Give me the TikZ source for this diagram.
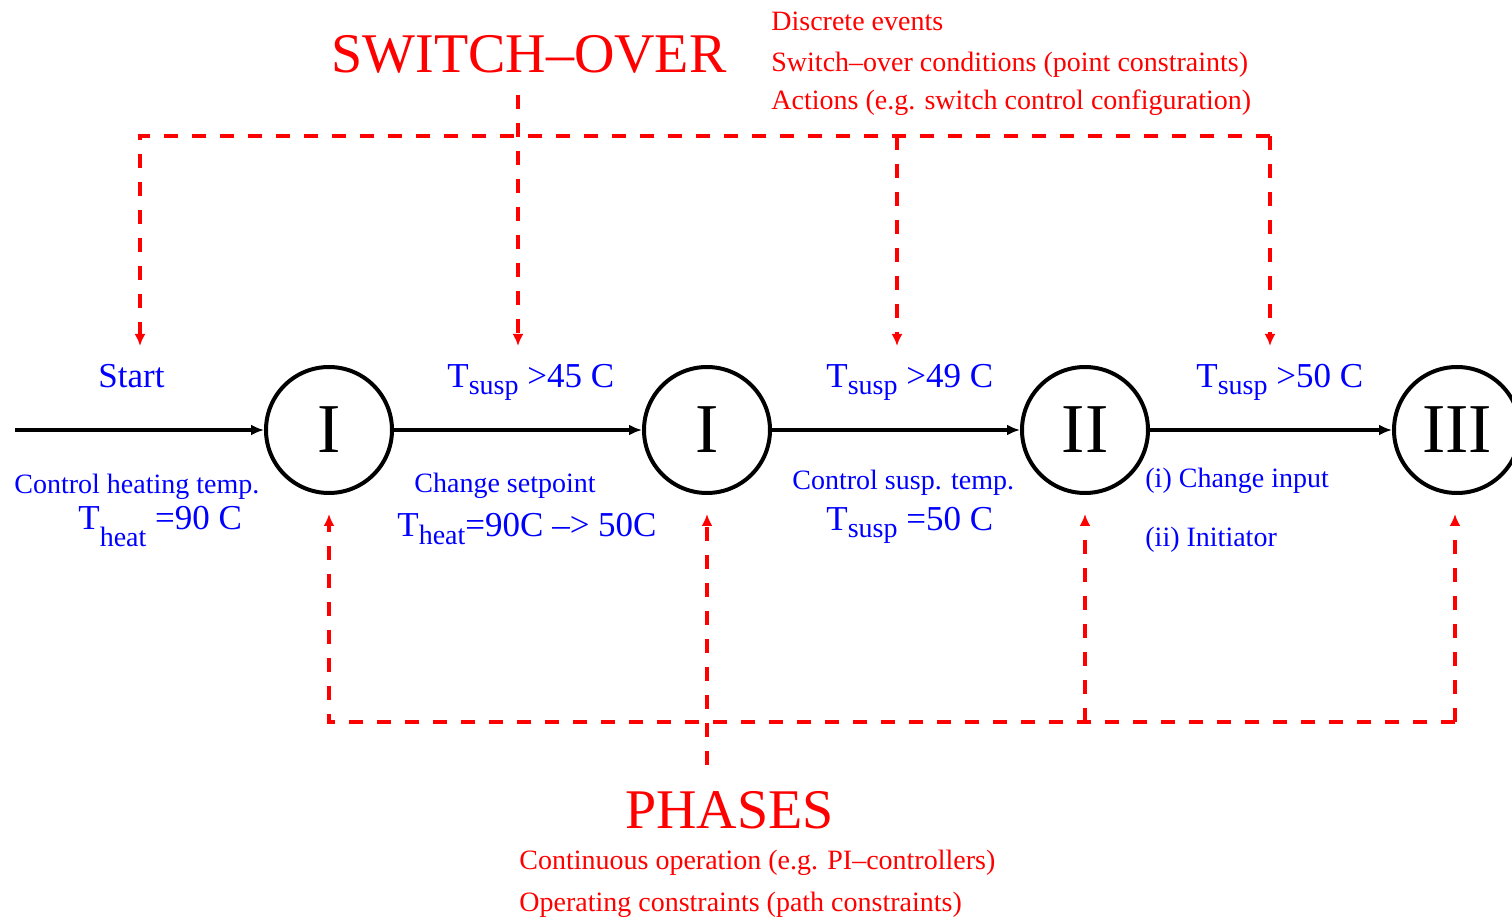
\documentclass[tikz,border=0pt]{standalone}
\usepackage{fontspec}
\setmainfont{Liberation Serif}
\usetikzlibrary{arrows.meta}
\definecolor{evred}{RGB}{255,0,0}
\definecolor{lblue}{RGB}{0,0,255}
\newcommand\Tlbl[2]{T\raisebox{-#2}{\fontsize{14}{14}\selectfont #1}}
\begin{document}
\begin{tikzpicture}[x=0.5pt,y=-0.5pt,
  phase/.style={circle,draw,line width=2pt,minimum size=63pt,inner sep=0pt,font=\fontsize{35}{35}\selectfont},
  flow/.style={line width=2pt,-{Latex[length=6.5pt,width=5.5pt]}},
  evt/.style={evred,line width=2pt,dash pattern=on 7pt off 7pt},
  evtarr/.style={evt,-{Latex[length=6pt,width=5.5pt]}},
  lbl/.style={anchor=base west,inner sep=0pt,text=lblue,font=\fontsize{17.5}{17.5}\selectfont},
  sml/.style={anchor=base west,inner sep=0pt,text=lblue,font=\fontsize{14}{14}\selectfont},
  rsml/.style={anchor=base west,inner sep=0pt,text=evred,font=\fontsize{14}{14}\selectfont},
  big/.style={anchor=base west,inner sep=0pt,text=evred,font=\fontsize{28}{28}\selectfont}]
\useasboundingbox (0,0) rectangle (1512,919);

% phases
\node[phase] (c1) at (329,430) {I};
\node[phase] (c2) at (707,430) {I};
\node[phase] (c3) at (1085,430) {II};
\node[phase] (c4) at (1457,430) {III};
\coordinate (in) at (15,430);
\draw[flow] (in) -- (c1);
\draw[flow] (c1) -- (c2);
\draw[flow] (c2) -- (c3);
\draw[flow] (c3) -- (c4);

% titles
\node[big] (sw) at (331,73) {SWITCH–OVER};
\node[rsml] (d1) at (771,31) {Discrete events};
\node[rsml] (d2) at (771,72) {Switch–over conditions (point constraints)};
\node[rsml] (d3) at (771,110) {Actions (e.g. switch control configuration)};

\node[big] (ph) at (625,828) {PHASES};
\node[rsml] (p1) at (519,870) {Continuous operation (e.g. PI–controllers)};
\node[rsml] (p2) at (519,912) {Operating constraints (path constraints)};

% labels on transitions
\node[lbl] (st) at (98,388) {Start};
\node[lbl] (s1) at (447,388) {\Tlbl{susp}{3.5pt} >45 C};
\node[lbl] (s2) at (826,388) {\Tlbl{susp}{3.5pt} >49 C};
\node[lbl] (s3) at (1196,388) {\Tlbl{susp}{3.5pt} >50 C};

\node[sml] (a1) at (14,494) {Control heating temp.};
\node[lbl] (a1b) at (78,530) {\Tlbl{heat}{8.5pt} =90 C};
\node[sml] (a2) at (414,493) {Change setpoint};
\node[lbl] (a2b) at (397,537) {\Tlbl{heat}{4pt}=90C –> 50C};
\node[sml] (a3) at (792,490) {Control susp. temp.};
\node[lbl] (a3b) at (826,531) {\Tlbl{susp}{3.5pt} =50 C};
\node[sml] (a4) at (1145,488) {(i) Change input};
\node[sml] (a4b) at (1145,547) {(ii) Initiator};

% switch-over connectors
\coordinate (tl) at (140,136);
\coordinate (tr) at (1270,136);
\coordinate (u1) at (140,346);
\coordinate (u2) at (518,346);
\coordinate (u3) at (897,346);
\coordinate (u4) at (1270,346);
\coordinate (sws) at (518,95);
\coordinate (h3) at (897,136);
\draw[evtarr] (tr) -- (tl) -- (u1);
\draw[evtarr] (sws) -- (u2);
\draw[evtarr] (h3) -- (u3);
\draw[evtarr] (tr) -- (u4);

% phase connectors
\coordinate (bl) at (329,722);
\coordinate (br) at (1455,722);
\coordinate (v1) at (329,514);
\coordinate (v2) at (707,514);
\coordinate (v3) at (1085,514);
\coordinate (v4) at (1455,514);
\coordinate (phs) at (707,765);
\coordinate (b3) at (1085,722);
\draw[evtarr] (br) -- (bl) -- (v1);
\draw[evtarr] (phs) -- (v2);
\draw[evtarr] (b3) -- (v3);
\draw[evtarr] (br) -- (v4);
\end{tikzpicture}
\end{document}
